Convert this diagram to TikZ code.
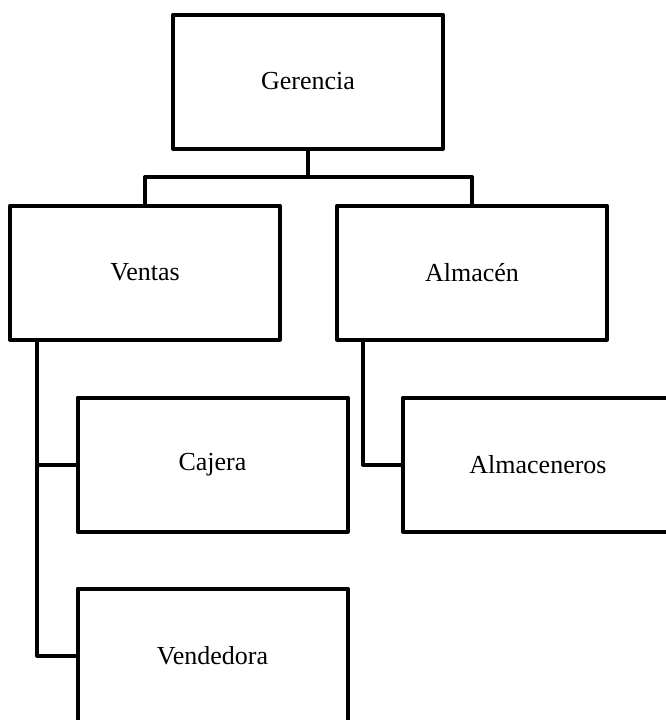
\documentclass[tikz,border=0pt]{standalone}
\usepackage{fontspec}
\setmainfont{Liberation Serif}
\usepackage{tikz}

\begin{document}
\begin{tikzpicture}[x=1pt, y=-1pt,
	box/.style={draw, line width=4pt, line join=round, minimum width=270pt, minimum height=134pt, font=\fontsize{26}{30}\selectfont},
	wire/.style={line width=4pt, line join=round}]
	\clip (0, 0) rectangle (666, 720);
	\fill[white] (0, 0) rectangle (666, 720);
	% Boxes:
	\node[box] (gerencia) at (308, 81.5) {Gerencia};
	\node[box] (ventas) at (145, 272.5) {Ventas};
	\node[box] (almacen) at (472, 272.5) {Almacén};
	\node[box] (cajera) at (212.5, 464.5) {Cajera};
	\node[box] (almaceneros) at (538, 464.5) {Almaceneros};
	\node[box] (vendedora) at (212.5, 655.5) {Vendedora};
	% Lines:
	\coordinate (bus) at (308, 177);
	\coordinate (ventasbar) at (37, 340);
	\coordinate (almacenbar) at (363, 340);
	\draw[wire] (gerencia.south) -- (bus);
	\draw[wire] (ventas.north) |- (bus) -| (almacen.north);
	\draw[wire] (ventasbar) |- (cajera.west);
	\draw[wire] (ventasbar) |- (vendedora.west);
	\draw[wire] (almacenbar) |- (almaceneros.west);
\end{tikzpicture}
\end{document}
